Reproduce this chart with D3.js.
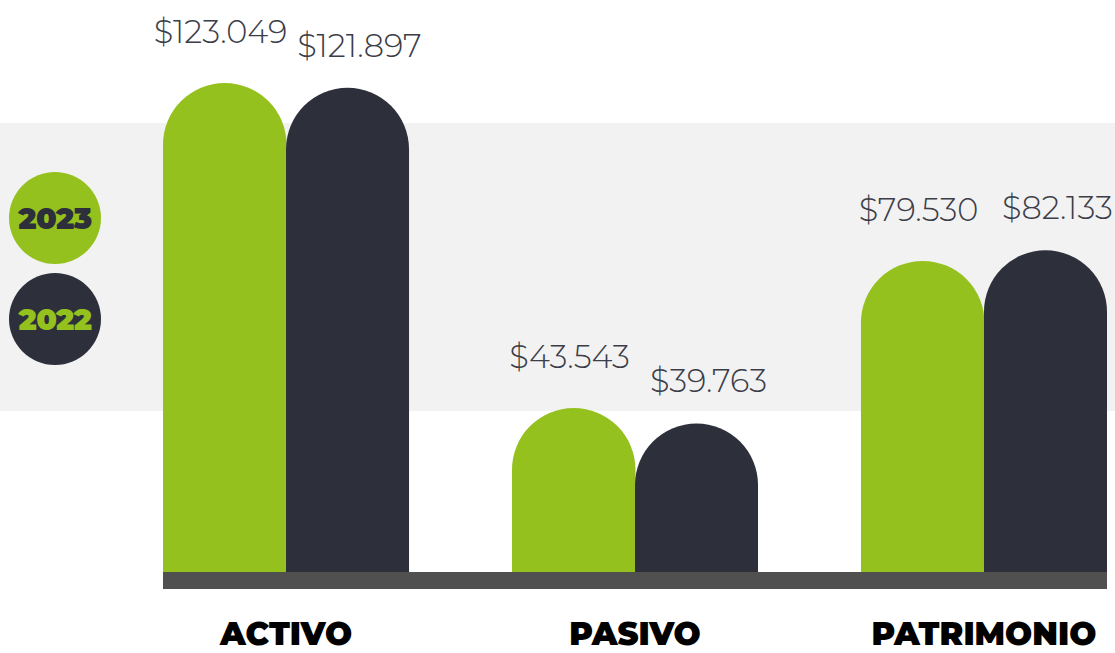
<!DOCTYPE html>
<html>
<head>
<meta charset="utf-8">
<script src="https://cdn.jsdelivr.net/npm/d3@7"></script>
<style>
  html, body { margin: 0; padding: 0; background: #ffffff; }
  svg { display: block; }
</style>
</head>
<body>
<svg id="chart" width="1115" height="653"></svg>
<script>
// ---- data ----
const categories = ["ACTIVO", "PASIVO", "PATRIMONIO"];
const seriesNames = ["2023", "2022"];
const values2023 = [123049, 43543, 79530];
const values2022 = [121897, 39763, 82133];
const valueLabels2023 = ["$123.049", "$43.543", "$79.530"];
const valueLabels2022 = ["$121.897", "$39.763", "$82.133"];

// ---- styling ----
const GREEN = "#95c11f";
const DARK = "#2d2f3a";
const LABEL = "#3b3d48";
const BAND = "#f2f2f2";
const BASE = "#505050";

const svg = d3.select("#chart");
const W = 1115, H = 653;

const x = d3.scaleBand().domain(categories).range([163, 1107]).paddingInner(0.295).paddingOuter(0);
const xs = d3.scaleBand().domain(seriesNames).range([0, x.bandwidth()]).padding(0);
const maxV = d3.max([...values2023, ...values2022]);
const y = d3.scaleLinear().domain([0, maxV]).range([586, 83]);

const colors = { "2023": GREEN, "2022": DARK };
const labelOffsets = { "2023": { dx: -4, dy: -40 }, "2022": { dx: 12, dy: -31 } };

// background band
svg.append("rect").attr("x", 0).attr("y", 123).attr("width", W).attr("height", 288).attr("fill", BAND);

const rows = categories.map((c, i) => ({
  cat: c,
  series: [
    { name: "2023", value: values2023[i], label: valueLabels2023[i] },
    { name: "2022", value: values2022[i], label: valueLabels2022[i] }
  ]
}));

function barPath(x0, w, top, bottom) {
  const r = w / 2;
  return `M${x0},${bottom} L${x0},${top + r} A${r},${r} 0 0 1 ${x0 + w},${top + r} L${x0 + w},${bottom} Z`;
}

const groups = svg.selectAll("g.group").data(rows).join("g")
  .attr("class", "group")
  .attr("transform", d => `translate(${x(d.cat)},0)`);

groups.selectAll("path.bar").data(d => d.series).join("path")
  .attr("class", "bar")
  .attr("fill", d => colors[d.name])
  .attr("d", d => barPath(xs(d.name), xs.bandwidth() + (d.name === "2023" ? 0.5 : 0), y(d.value), y(0)));

groups.selectAll("text.val").data(d => d.series).join("text")
  .attr("class", "val")
  .attr("x", d => xs(d.name) + xs.bandwidth() / 2 + labelOffsets[d.name].dx)
  .attr("y", d => y(d.value) + labelOffsets[d.name].dy)
  .attr("text-anchor", "middle")
  .attr("fill", LABEL)
  .style("font-family", "Montserrat, 'Open Sans', Lato, sans-serif")
  .style("font-weight", 300)
  .style("font-size", "32px")
  .text(d => d.label);

// baseline
svg.append("rect").attr("x", 163).attr("y", 572).attr("width", 944).attr("height", 17).attr("fill", BASE);

// category labels
svg.selectAll("text.cat").data(categories).join("text")
  .attr("class", "cat")
  .attr("x", d => x(d) + x.bandwidth() / 2)
  .attr("y", 645)
  .attr("text-anchor", "middle")
  .attr("fill", "#000")
  .style("font-family", "Montserrat, Lato, 'Open Sans', sans-serif")
  .style("font-weight", 900)
  .style("font-size", "32px")
  .text(d => d);

// legend
const legend = [
  { name: "2023", fill: GREEN, text: DARK, cy: 218 },
  { name: "2022", fill: DARK, text: GREEN, cy: 319 }
];
const lg = svg.selectAll("g.leg").data(legend).join("g").attr("class", "leg");
lg.append("circle").attr("cx", 55).attr("cy", d => d.cy).attr("r", 46).attr("fill", d => d.fill);
lg.append("text")
  .attr("x", 55).attr("y", d => d.cy + 10.5)
  .attr("text-anchor", "middle")
  .attr("fill", d => d.text)
  .style("font-family", "Montserrat, Lato, 'Open Sans', sans-serif")
  .style("font-weight", 900)
  .style("font-size", "30px")
  .style("letter-spacing", "-0.5px")
  .text(d => d.name);
</script>
</body>
</html>
